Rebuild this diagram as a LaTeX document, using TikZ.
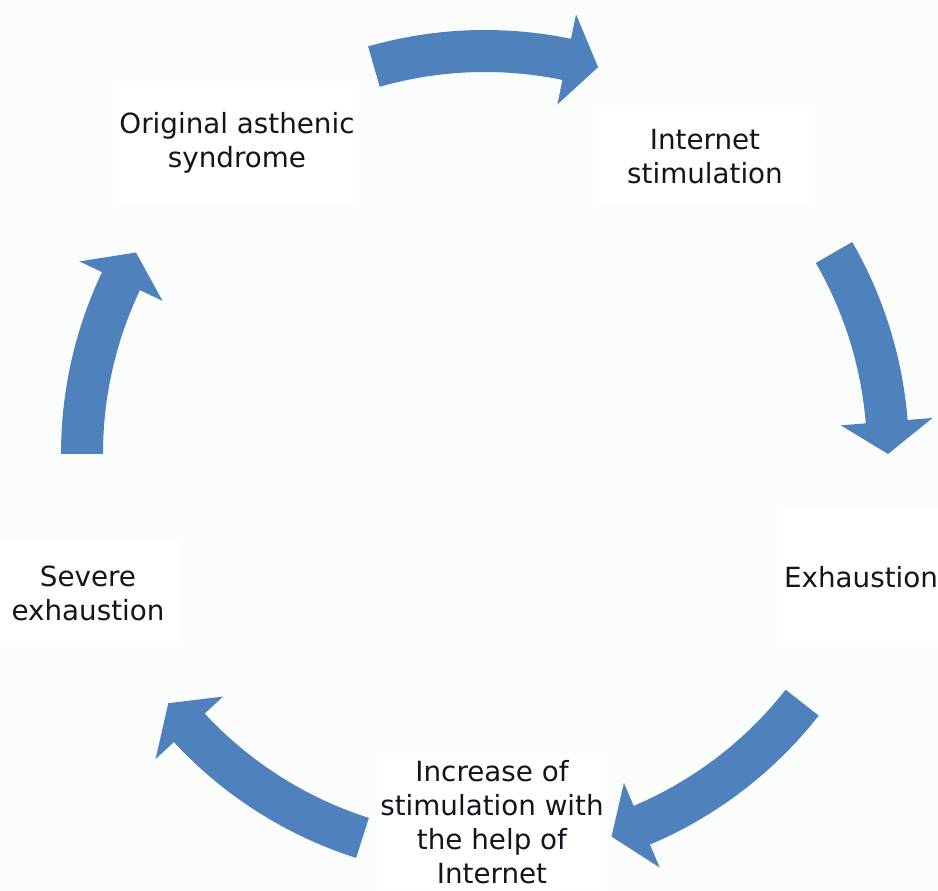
\documentclass[tikz,border=0pt]{standalone}
\usepackage{fontspec}
\setmainfont{DejaVu Sans}
\usepackage{xcolor}
\usepackage{tikz}
\usetikzlibrary{positioning, calc}
\definecolor{CycBlue}{RGB}{79,129,189}
\definecolor{CycBack}{RGB}{251,253,252}
\definecolor{CycText}{RGB}{20,20,30}

\begin{document}
\begin{tikzpicture}[
          lbl/.style={rectangle, fill=white, text=CycText, align=center,
                      inner sep=2pt, font=\fontsize{15.8}{19.4}\selectfont},
          cyc/.style={fill=CycBlue}
        ]
        % background and page size
        \fill[CycBack] (-9.70,9.08) rectangle (9.06,-8.74);
        \useasboundingbox (-9.70,9.08) rectangle (9.06,-8.74);

        % stages of the cycle
        \node[lbl, minimum width=4.9cm, minimum height=2.46cm] (orig) at (-4.96, 6.22)
              {Original asthenic\\syndrome};
        \node[lbl, minimum width=4.4cm, minimum height=1.9cm] (inet) at (4.40, 5.94)
              {Internet\\stimulation};
        \node[lbl, minimum width=3.2cm, minimum height=2.76cm] (exh) at (7.52, -2.46)
              {Exhaustion};
        \node[lbl, minimum width=4.4cm, minimum height=2.7cm] (incr) at (0.14, -7.36)
              {Increase of\\stimulation with\\the help of\\Internet};
        \node[lbl, minimum width=3.68cm, minimum height=2.1cm] (sev) at (-7.94, -2.78)
              {Severe\\exhaustion};

        % curved block arrows (tail angle / tip angle)
        \foreach \ta/\tb [evaluate=\tb as \tc using \tb+4.6] in
                 {106/73.7, 30/0, -38.1/-71.7, -107.7/-141.8, 180/150} {
          \fill[cyc] (\ta:8.48) arc[start angle=\ta, end angle=\tc, radius=8.48]
                -- (\tc:8.98) -- (\tb:8.06) -- (\tc:7.14) -- (\tc:7.64)
                arc[start angle=\tc, end angle=\ta, radius=7.64] -- cycle;
        }
      \end{tikzpicture}
\end{document}
